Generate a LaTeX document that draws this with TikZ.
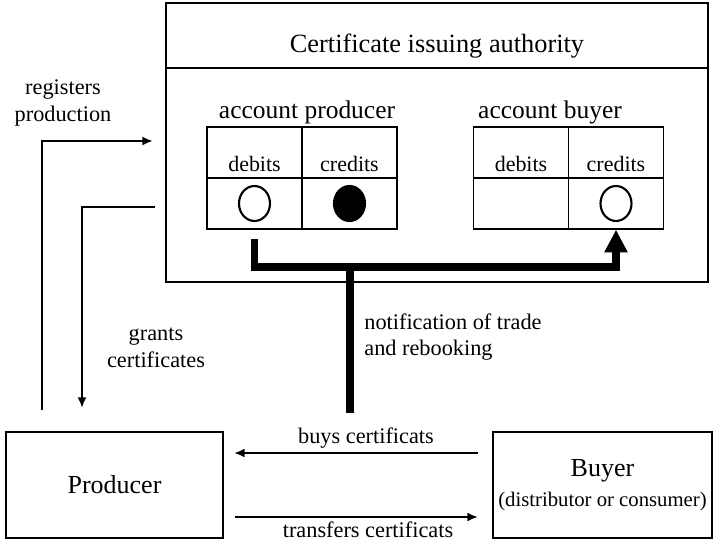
\documentclass[tikz,border=0pt]{standalone}
\usepackage{fontspec}
\setmainfont{Liberation Serif}
\usetikzlibrary{shapes,arrows.meta,calc}

\begin{document}
\begin{tikzpicture}[x=0.02cm,y=-0.02cm]
      \tikzset{panel/.style={draw, line width=1.1pt, inner sep=0pt},
          cell/.style={draw, line width=0.75pt, inner sep=0pt,
            minimum width=1.9cm, minimum height=1.02cm},
          head cell/.style={cell, text height=0.78cm, text depth=0pt,
            font=\fontsize{12.5}{15}\selectfont},
          token/.style={draw, ellipse, line width=1.2pt, inner sep=0pt,
            minimum width=0.62cm, minimum height=0.7cm, fill=#1},
          token/.default=white,
          flow/.style={line width=1.3pt, -{Latex[length=6pt,width=5pt]}},
          bus/.style={line width=4.5pt, line join=miter},
          txt/.style={font=\fontsize{12.7}{15.3}\selectfont, inner sep=0pt}
      }
      \useasboundingbox (0,0) rectangle (716,540);
      % issuing authority
      \node [panel, minimum width=10.84cm, minimum height=1.3cm] (head) at (437,35.5) {};
      \node [panel, minimum width=10.84cm, minimum height=4.28cm] (auth) at (437,175) {};
      \node [txt, font=\fontsize{15}{18}\selectfont] (title) at (437,46) {Certificate issuing authority};
      % accounts
      \node [txt, font=\fontsize{14.5}{17}\selectfont] (accP) at (307,112) {account producer};
      \node [txt, font=\fontsize{14.5}{17}\selectfont] (accB) at (550,112) {account buyer};
      \node [head cell] (pdH) at (254.5,152.5) {debits};
      \node [head cell] (pcH) at (349.5,152.5) {credits};
      \node [cell] (pd) at (254.5,203.5) {};
      \node [cell] (pc) at (349.5,203.5) {};
      \node [head cell] (bdH) at (521,152.5) {debits};
      \node [head cell] (bcH) at (616,152.5) {credits};
      \node [cell] (bd) at (521,203.5) {};
      \node [cell] (bc) at (616,203.5) {};
      \node [token] (pdT) at (pd) {};
      \node [token=black] (pcT) at (pc) {};
      \node [token] (bcT) at (bc) {};
      % rebooking
      \coordinate (busL) at (254.5,239);
      \coordinate (bus) at (350,267);
      \coordinate (busEnd) at (350,413);
      \draw [bus, -{Triangle[length=13pt,width=12.5pt]}] (busL) |- (bus) -| (bc.south);
      \draw [bus] (bus) -- (busEnd);
      \node [txt, align=left, anchor=north west] (notLbl) at (364,313) {notification of trade\\and rebooking};
      % producer side
      \coordinate (regStart) at (42,410);
      \coordinate (regEnd) at (153,141);
      \draw [flow] (regStart) |- (regEnd);
      \coordinate (grStart) at (155,207);
      \coordinate (grEnd) at (82,408);
      \draw [flow] (grStart) -| (grEnd);
      \node [txt, align=center] (regLbl) at (63,103) {registers\\production};
      \node [txt, align=center] (grLbl) at (156,348) {grants\\certificates};
      % parties
      \node [panel, minimum width=4.34cm, minimum height=2.12cm,
        font=\fontsize{14.8}{17}\selectfont] (prod) at (114.5,485) {Producer};
      \node [panel, minimum width=4.38cm, minimum height=2.12cm, align=center,
        font=\fontsize{11.8}{17}\selectfont] (buyer) at (602.5,485)
        {{\fontsize{14.8}{17}\selectfont Buyer}\\(distributor or consumer)};
      \coordinate (buyFrom) at (478,453);
      \coordinate (buyTo) at (234,453);
      \draw [flow] (buyFrom) -- (buyTo);
      \coordinate (trFrom) at (235,517);
      \coordinate (trTo) at (478,517);
      \draw [flow] (trFrom) -- (trTo);
      \node [txt, anchor=base] (buyLbl) at (366,443) {buys certificats};
      \node [txt, anchor=base] (trLbl) at (368,537) {transfers certificats};
\end{tikzpicture}
\end{document}
